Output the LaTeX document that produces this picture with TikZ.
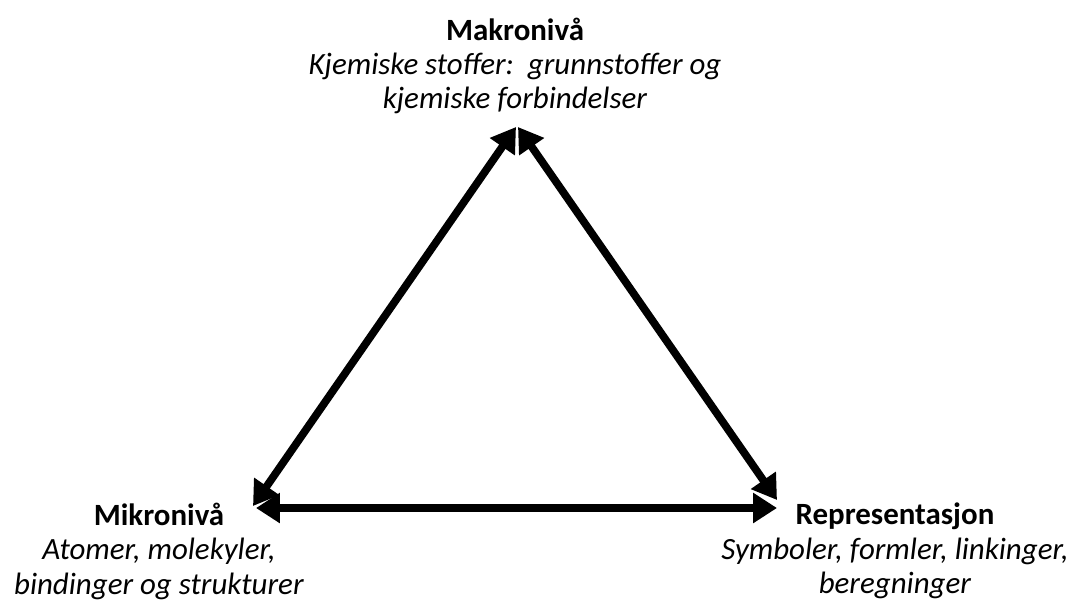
\documentclass[tikz,border=0pt]{standalone}
\usepackage{fontspec}
\setmainfont{Carlito}
\usetikzlibrary{arrows.meta}
\tikzset{
  label block/.style={align=center, inner sep=0pt, font=\fontsize{17.6}{19.6}\selectfont},
  link/.style={line width=4.4pt, {Triangle[length=0.48cm,width=0.58cm]}-{Triangle[length=0.48cm,width=0.58cm]}}
}
\begin{document}
\begin{tikzpicture}[x=0.02cm,y=-0.02cm]
\useasboundingbox (0,0) rectangle (1076,603);
\node[label block] (makro) at (515,66) {\textbf{Makronivå}\\\textit{Kjemiske stoffer:~~grunnstoffer og}\\\textit{kjemiske forbindelser}};
\node[label block] (mikro) at (159,551) {\textbf{Mikronivå}\\\textit{Atomer, molekyler,}\\\textit{bindinger og strukturer}};
\node[label block] (repr) at (895,551) {\textbf{Representasjon}\\\textit{Symboler, formler, linkinger,}\\\textit{beregninger}};
\coordinate (topL) at (516,127);
\coordinate (topR) at (518,127);
\coordinate (left) at (253,506);
\coordinate (leftH) at (256,508);
\coordinate (right) at (777,500);
\coordinate (rightH) at (777,508);
\draw[link] (topL) -- (left);
\draw[link] (topR) -- (right);
\draw[link] (leftH) -- (rightH);
\end{tikzpicture}
\end{document}
